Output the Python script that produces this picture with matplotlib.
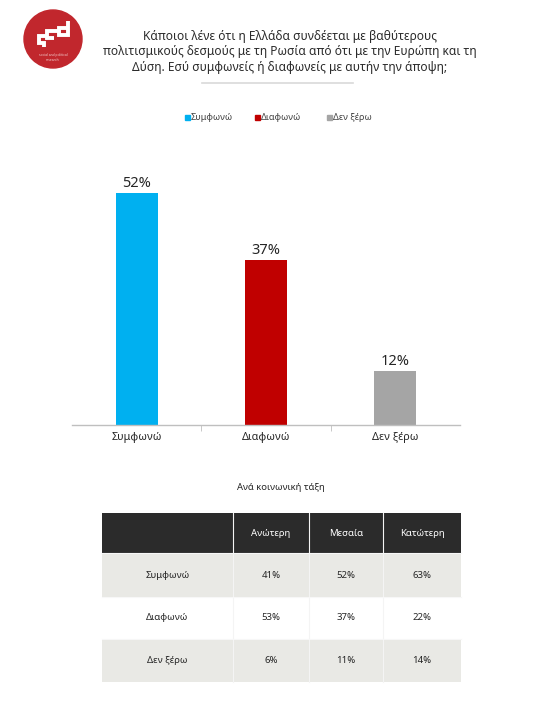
import matplotlib
matplotlib.use("Agg")
import matplotlib.pyplot as plt
from matplotlib.patches import Rectangle, Circle

plt.rcParams['font.family'] = ['Noto Sans', 'DejaVu Sans']

# ---- data ----
title = ("Κάποιοι λένε ότι η Ελλάδα συνδέεται με βαθύτερους\n"
         "πολιτισμικούς δεσμούς με τη Ρωσία από ότι με την Ευρώπη και τη\n"
         "Δύση. Εσύ συμφωνείς ή διαφωνείς με αυτήν την άποψη;")
categories = ["Συμφωνώ", "Διαφωνώ", "Δεν ξέρω"]
values = [52, 37, 12]
colors = ["#00b0f0", "#c00000", "#a5a5a5"]

table_title = "Ανά κοινωνική τάξη"
table_cols = ["Ανώτερη", "Μεσαία", "Κατώτερη"]
table_rows = ["Συμφωνώ", "Διαφωνώ", "Δεν ξέρω"]
table_vals = [["41%", "52%", "63%"],
              ["53%", "37%", "22%"],
              ["6%", "11%", "14%"]]

W, H = 533, 713
fig = plt.figure(figsize=(W / 100, H / 100), dpi=100)
fig.patch.set_facecolor("white")

# overlay axes in pixel coordinates
ov = fig.add_axes([0, 0, 1, 1])
ov.set_xlim(0, W)
ov.set_ylim(H, 0)
ov.axis("off")

# logo
ov.add_patch(Circle((53, 39), 29, color="#c1272d", zorder=2))
logo_paths = [
    ([47, 38.5, 38.5, 44, 44], [36, 36, 43, 43, 47]),
    ([58.5, 47, 47, 54], [30.5, 30.5, 37.5, 37.5]),
    ([67.5, 58.5, 58.5, 67.5, 67.5], [27.5, 27.5, 34.5, 34.5, 20.5]),
]
for xs, ys in logo_paths:
    ov.plot(xs, ys, color="white", lw=2.8, solid_capstyle="butt", solid_joinstyle="miter",
            zorder=3)
ov.text(53, 57.5, "social and political\nresearch", color="#f3d0d0", fontsize=2.4,
        ha="center", va="center", zorder=3, linespacing=1.1)

# title
ov.text(290, 52, title, ha="center", va="center", fontsize=8.6, color="#2b2b2b",
        linespacing=1.25)
ov.plot([202, 353], [83, 83], color="#d9d9d9", lw=1.2)

# legend
for (lx, lab, c) in [(187, categories[0], colors[0]), (257, categories[1], colors[1]),
                     (329, categories[2], colors[2])]:
    ov.add_patch(Rectangle((lx - 2.5, 114.5), 5, 5, color=c))
    ov.text(lx + 4, 117.5, lab, fontsize=6.5, va="center", ha="left", color="#404040")

# bar chart
ax = fig.add_axes([72 / W, 1 - 425 / H, (460 - 72) / W, 267.6 / H])
x = list(range(len(categories)))
bars = ax.bar(x, values, width=0.325, color=colors, zorder=2)
ax.set_xlim(-0.5, 2.5)
ax.set_ylim(0, 60)
ax.set_yticks([])
for s in ["top", "right", "left"]:
    ax.spines[s].set_visible(False)
ax.spines["bottom"].set_color("#bfbfbf")
ax.spines["bottom"].set_linewidth(1.0)
ax.set_xticks(x)
ax.set_xticklabels(categories, fontsize=7.8, color="#262626")
ax.tick_params(axis="x", length=0, pad=5)
ax.set_xticks([0.5, 1.5], minor=True)
ax.tick_params(axis="x", which="minor", length=4, color="#bfbfbf", direction="out")
for b, v in zip(bars, values):
    ax.text(b.get_x() + b.get_width() / 2, v + 0.5, f"{v}%", ha="center", va="bottom",
            fontsize=10.5, color="#262626")
ax.patch.set_alpha(0)

# table
ov.text(281, 488, table_title, ha="center", va="center", fontsize=6.8, color="#262626")
col_edges = [102, 233, 309, 383, 461]
row_edges = [513, 553, 597, 639, 682]
row_bg = ["#2b2b2b", "#e9e9e5", "#ffffff", "#e9e9e5"]
for r in range(4):
    y0, y1 = row_edges[r], row_edges[r + 1]
    ov.add_patch(Rectangle((col_edges[0], y0), col_edges[-1] - col_edges[0], y1 - y0,
                           facecolor=row_bg[r], edgecolor="none", zorder=1))
    yc = (y0 + y1) / 2
    for c in range(4):
        xc = (col_edges[c] + col_edges[c + 1]) / 2
        if r == 0:
            txt = "" if c == 0 else table_cols[c - 1]
            col = "white"
        else:
            txt = table_rows[r - 1] if c == 0 else table_vals[r - 1][c - 1]
            col = "#262626"
        ov.text(xc, yc, txt, ha="center", va="center", fontsize=6.9, color=col, zorder=3)
# separators
for xe in col_edges[1:-1]:
    ov.plot([xe, xe], [row_edges[0], row_edges[-1]], color="#f4f4f4", lw=0.8, zorder=2)
for ye in row_edges[1:-1]:
    ov.plot([col_edges[0], col_edges[-1]], [ye, ye], color="#f7f7f7", lw=0.8, zorder=2)

fig.savefig("out.png", dpi=100, facecolor="white")
